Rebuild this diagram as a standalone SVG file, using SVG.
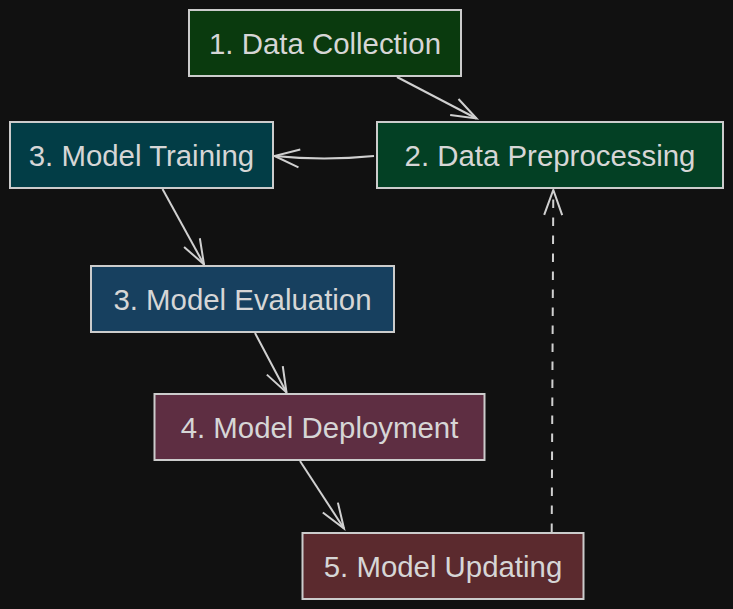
<svg xmlns="http://www.w3.org/2000/svg" width="733" height="609" viewBox="0 0 733 609">
  <defs>
    <style>
      .node rect { stroke: #cccccc; stroke-width: 2; }
      .node text { font-family: "Liberation Sans", Arial, sans-serif; font-size: 29.4px; fill: #d6d6d6; text-anchor: middle; }
      .edge { fill: none; stroke: #d0d0d0; stroke-width: 2; marker-end: url(#arrow); }
      .dashed { stroke-dasharray: 8.5 9.5; }
    </style>
    <marker id="arrow" markerUnits="userSpaceOnUse" markerWidth="40" markerHeight="40" viewBox="-30 -15 40 30" refX="0" refY="0" orient="auto" overflow="visible">
      <path d="M-25,-9 L0,0 L-25,9" fill="none" stroke="#d0d0d0" stroke-width="2" stroke-dasharray="none"/>
    </marker>
  </defs>
  <rect x="0" y="0" width="733" height="609" fill="#111111"/>
  <g id="connectors">
    <path class="edge" d="M397,77 L476.5,118.5"/>
    <path class="edge" d="M374,156 Q324,161 274.5,156"/>
    <path class="edge" d="M162.5,189 L204,264.5"/>
    <path class="edge" d="M255,333 L286.5,392.5"/>
    <path class="edge" d="M300,461 L344,528.5"/>
    <path class="edge dashed" d="M551.7,532 L553.3,190"/>
  </g>
  <g id="node-data-collection" class="node">
    <rect x="189" y="10" width="272" height="66" fill="#0a3a0e"/>
    <text x="325" y="53.5">1. Data Collection</text>
  </g>
  <g id="node-data-preprocessing" class="node">
    <rect x="377" y="122" width="346" height="66" fill="#034024"/>
    <text x="550" y="165.5">2. Data Preprocessing</text>
  </g>
  <g id="node-model-training" class="node">
    <rect x="10" y="122" width="263" height="66" fill="#023d46"/>
    <text x="141.5" y="165.5">3. Model Training</text>
  </g>
  <g id="node-model-evaluation" class="node">
    <rect x="91" y="266" width="303" height="66" fill="#17405f"/>
    <text x="242.5" y="309.5">3. Model Evaluation</text>
  </g>
  <g id="node-model-deployment" class="node">
    <rect x="154.5" y="394" width="330" height="66" fill="#5e2e42"/>
    <text x="319.5" y="437.5">4. Model Deployment</text>
  </g>
  <g id="node-model-updating" class="node">
    <rect x="302.5" y="533" width="281" height="66" fill="#5b2a2e"/>
    <text x="443" y="576.5">5. Model Updating</text>
  </g>
</svg>
